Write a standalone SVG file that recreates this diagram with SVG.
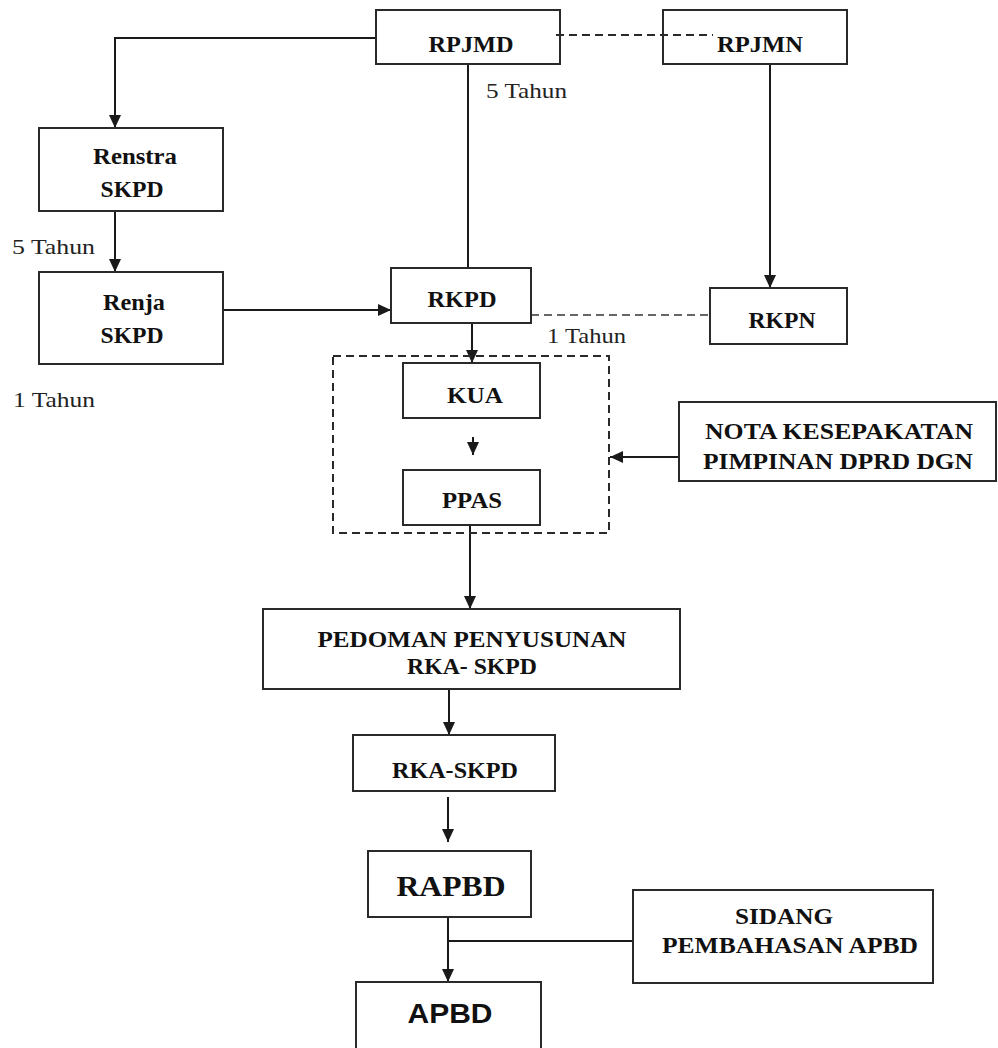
<svg xmlns="http://www.w3.org/2000/svg" width="998" height="1048" viewBox="0 0 998 1048">
<defs>
<marker id="arr" markerUnits="userSpaceOnUse" markerWidth="13" markerHeight="12" refX="13" refY="6" orient="auto">
<path d="M0,0 L13,6 L0,12 z" fill="#1a1a1a"/>
</marker>
<style>
.box{fill:none;stroke:#2a2a2a;stroke-width:2}
.lbl{font-family:"Liberation Serif","Times New Roman",serif;font-weight:bold;font-size:24px;fill:#111;text-anchor:middle}
.sans{font-family:"Liberation Sans",Arial,sans-serif;font-weight:bold;fill:#111;text-anchor:middle}
.note{font-family:"Liberation Serif","Times New Roman",serif;font-size:22px;fill:#222}
.ln{fill:none;stroke:#1a1a1a;stroke-width:2}
.dash{fill:none;stroke:#2a2a2a;stroke-width:2;stroke-dasharray:8,5}
.dashl{fill:none;stroke:#666;stroke-width:2;stroke-dasharray:8,5}
</style>
</defs>
<rect width="998" height="1048" fill="#fff"/>

<g id="connectors">
<path class="ln" d="M376,38 H115 V128" marker-end="url(#arr)"/>
<path class="ln" d="M115,211 V272" marker-end="url(#arr)"/>
<path class="ln" d="M223,310 H391" marker-end="url(#arr)"/>
<path class="ln" d="M468,64 V268"/>
<path class="ln" d="M770,64 V288" marker-end="url(#arr)"/>
<path class="dash" d="M556,35 H713"/>
<path class="dashl" d="M531,315 H710"/>
<path class="ln" d="M472,323 V363" marker-end="url(#arr)"/>
<path class="ln" d="M473,437 V455" marker-end="url(#arr)"/>
<path class="ln" d="M679,457 H610" marker-end="url(#arr)"/>
<path class="ln" d="M470,525 V609" marker-end="url(#arr)"/>
<path class="ln" d="M449,689 V735" marker-end="url(#arr)"/>
<path class="ln" d="M448,797 V842" marker-end="url(#arr)"/>
<path class="ln" d="M448,917 V982" marker-end="url(#arr)"/>
<path class="ln" d="M633,941 H448"/>
</g>

<g id="labels">
<text class="note" x="12" y="254" textLength="83" lengthAdjust="spacingAndGlyphs">5 Tahun</text>
<text class="note" x="13" y="407" textLength="82" lengthAdjust="spacingAndGlyphs">1 Tahun</text>
<text class="note" x="486" y="98" textLength="81" lengthAdjust="spacingAndGlyphs">5 Tahun</text>
<text class="note" x="547" y="343" textLength="79" lengthAdjust="spacingAndGlyphs">1 Tahun</text>
</g>

<g id="kebijakan-group">
<rect x="333" y="356" width="276" height="177" class="dash"/>
</g>

<g id="rpjmd">
<rect class="box" x="376" y="10" width="184" height="54"/>
<text class="lbl" x="471" y="52" textLength="85" lengthAdjust="spacingAndGlyphs">RPJMD</text>
</g>
<g id="rpjmn">
<rect class="box" x="663" y="10" width="184" height="54"/>
<text class="lbl" x="760" y="52" textLength="86" lengthAdjust="spacingAndGlyphs">RPJMN</text>
</g>
<g id="renstra">
<rect class="box" x="39" y="128" width="184" height="83"/>
<text class="lbl" x="135" y="164" textLength="84" lengthAdjust="spacingAndGlyphs">Renstra</text>
<text class="lbl" x="132" y="197" textLength="63" lengthAdjust="spacingAndGlyphs">SKPD</text>
</g>
<g id="renja">
<rect class="box" x="39" y="272" width="184" height="92"/>
<text class="lbl" x="134" y="310" textLength="62" lengthAdjust="spacingAndGlyphs">Renja</text>
<text class="lbl" x="132" y="343" textLength="63" lengthAdjust="spacingAndGlyphs">SKPD</text>
</g>
<g id="rkpd">
<rect class="box" x="391" y="268" width="140" height="55"/>
<text class="lbl" x="462" y="307" textLength="69" lengthAdjust="spacingAndGlyphs">RKPD</text>
</g>
<g id="rkpn">
<rect class="box" x="710" y="288" width="137" height="56"/>
<text class="lbl" x="782" y="328" textLength="67" lengthAdjust="spacingAndGlyphs">RKPN</text>
</g>
<g id="kua">
<rect class="box" x="403" y="363" width="137" height="55"/>
<text class="lbl" x="475" y="403" textLength="56" lengthAdjust="spacingAndGlyphs">KUA</text>
</g>
<g id="ppas">
<rect class="box" x="403" y="470" width="137" height="55"/>
<text class="lbl" x="472" y="508" textLength="60" lengthAdjust="spacingAndGlyphs">PPAS</text>
</g>
<g id="nota">
<rect class="box" x="679" y="402" width="317" height="79"/>
<text class="lbl" x="839" y="439" textLength="268" lengthAdjust="spacingAndGlyphs">NOTA KESEPAKATAN</text>
<text class="lbl" x="838" y="469" textLength="270" lengthAdjust="spacingAndGlyphs">PIMPINAN DPRD DGN</text>
</g>
<g id="pedoman">
<rect class="box" x="263" y="609" width="417" height="80"/>
<text class="lbl" x="472" y="647" textLength="309" lengthAdjust="spacingAndGlyphs">PEDOMAN PENYUSUNAN</text>
<text class="lbl" x="472" y="674" textLength="130" lengthAdjust="spacingAndGlyphs">RKA- SKPD</text>
</g>
<g id="rka-skpd">
<rect class="box" x="353" y="735" width="202" height="56"/>
<text class="lbl" x="455" y="778" textLength="126" lengthAdjust="spacingAndGlyphs">RKA-SKPD</text>
</g>
<g id="rapbd">
<rect class="box" x="368" y="851" width="163" height="66"/>
<text class="lbl" x="451" y="896" style="font-size:30px" textLength="109" lengthAdjust="spacingAndGlyphs">RAPBD</text>
</g>
<g id="sidang">
<rect class="box" x="633" y="890" width="300" height="93"/>
<text class="lbl" x="784" y="924" textLength="98" lengthAdjust="spacingAndGlyphs">SIDANG</text>
<text class="lbl" x="790" y="953" textLength="256" lengthAdjust="spacingAndGlyphs">PEMBAHASAN APBD</text>
</g>
<g id="apbd">
<rect class="box" x="356" y="982" width="185" height="80"/>
<text class="sans" x="450" y="1023" style="font-size:28px" textLength="85" lengthAdjust="spacingAndGlyphs">APBD</text>
</g>
</svg>
